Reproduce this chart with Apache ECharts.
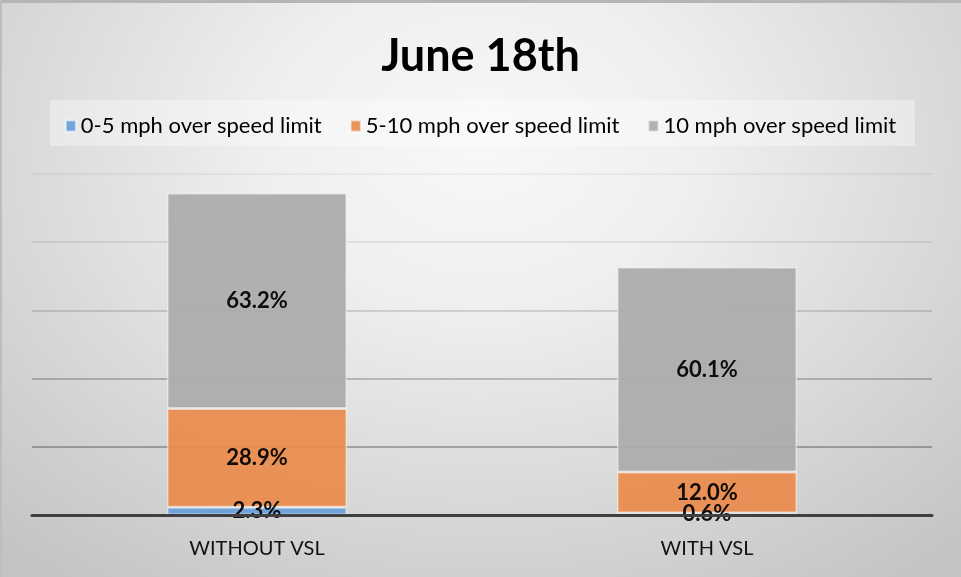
<!DOCTYPE html>
<html>
<head>
<meta charset="utf-8">
<script src="https://cdn.jsdelivr.net/npm/echarts@6/dist/echarts.min.js"></script>
<style>
html,body{margin:0;padding:0;}
#c{width:961px;height:577px;background:radial-gradient(ellipse 75% 95% at 50% 25%, #f8f8f8 0%, #efefef 30%, #d9d9d9 65%, #c3c3c3 100%);}
</style>
</head>
<body>
<div id="c"></div>
<script>
var categories = ['WITHOUT VSL', 'WITH VSL'];
var seriesNames = ['0-5 mph over speed limit', '5-10 mph over speed limit', '10 mph over speed limit'];
var s0to5 = [2.3, 0.6];
var s5to10 = [28.9, 12.0];
var s10plus = [63.2, 60.1];
var yTicks = [0, 20, 40, 60, 80, 100];

var FONT = "Lato, 'Open Sans', sans-serif";
var colors = ['#6a9fd8', '#ea8b4c', '#ababab'];
var chart = echarts.init(document.getElementById('c'), null, {renderer: 'canvas'});

function mk(name, data, color) {
  return {
    name: name, type: 'bar', stack: 'total', data: data, barWidth: '40%',
    itemStyle: {color: color, borderColor: 'rgba(255,255,255,0.55)', borderWidth: 1.5, opacity: 0.93},
    label: {show: true, position: 'inside', formatter: function(p){return p.value.toFixed(1) + '%';},
      fontFamily: FONT, fontWeight: 'bold', fontSize: 22, color: '#000'}
  };
}

chart.setOption({
  backgroundColor: 'transparent',
  animation: false,
  title: {text: 'June 18th', left: 'center', top: 29,
    textStyle: {fontFamily: FONT, fontWeight: 'bold', fontSize: 45, color: '#000'}},
  graphic: [
    {type: 'rect', shape: {x: 50, y: 100, width: 865, height: 46}, style: {fill: 'rgba(255,255,255,0.35)'}, z: -1},
    {type: 'rect', shape: {x: 0, y: 0, width: 961, height: 3}, style: {fill: '#b5b5b5'}},
    {type: 'rect', shape: {x: 0, y: 0, width: 2, height: 577}, style: {fill: '#bdbdbd'}}
  ],
  legend: {
    data: seriesNames, top: 110, left: 'center', itemWidth: 10, itemHeight: 11, itemGap: 28,
    icon: 'rect',
    textStyle: {fontFamily: FONT, fontSize: 22, color: '#000'}
  },
  grid: {left: 32, right: 29, top: 174, bottom: 62},
  xAxis: {
    type: 'category', data: categories, z: 3,
    axisLine: {lineStyle: {color: '#404040', width: 3}},
    axisTick: {show: false},
    axisLabel: {fontFamily: FONT, fontSize: 20, color: '#111', margin: 24}
  },
  yAxis: {
    type: 'value', min: yTicks[0], max: yTicks[yTicks.length - 1], interval: 20,
    axisLabel: {show: false}, axisLine: {show: false}, axisTick: {show: false},
    splitLine: {lineStyle: {width: 1.5, color: ['rgba(0,0,0,0)', 'rgba(0,0,0,0.36)', 'rgba(0,0,0,0.28)', 'rgba(0,0,0,0.18)', 'rgba(0,0,0,0.1)', 'rgba(0,0,0,0.06)']}}
  },
  series: [mk(seriesNames[0], s0to5, colors[0]), mk(seriesNames[1], s5to10, colors[1]), mk(seriesNames[2], s10plus, colors[2])]
});
</script>
</body>
</html>
